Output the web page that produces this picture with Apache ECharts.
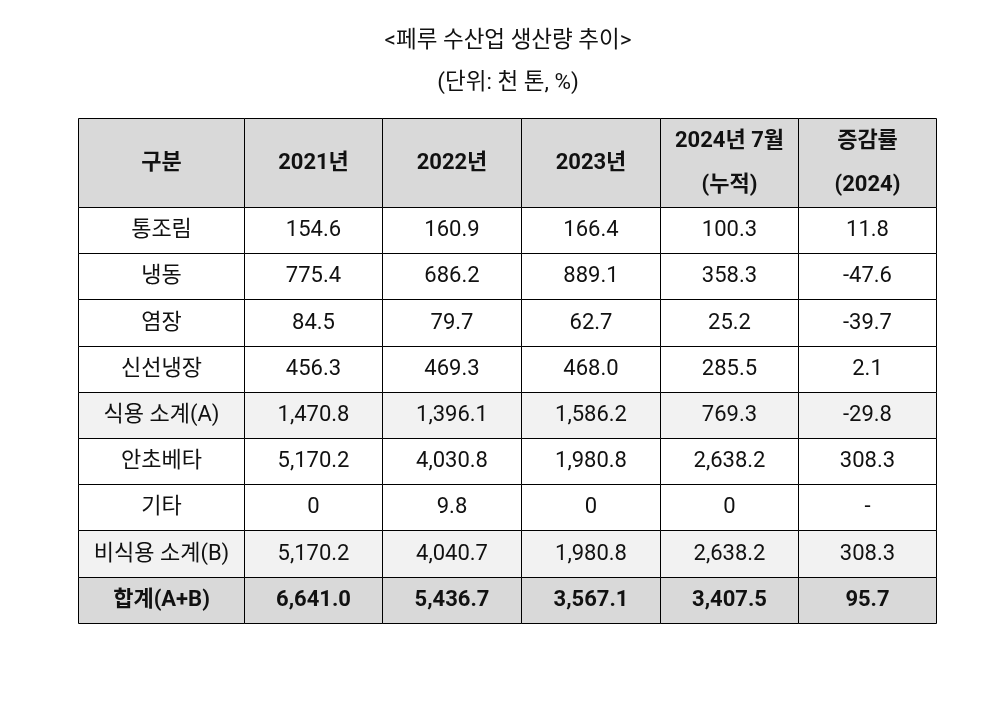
<!DOCTYPE html>
<html>
<head>
<meta charset="utf-8">
<script src="https://cdn.jsdelivr.net/npm/echarts@6/dist/echarts.min.js"></script>
<style>
  html, body { margin: 0; padding: 0; background: #fff; }
  #main { width: 997px; height: 714px; }
</style>
</head>
<body>
<div id="main"></div>
<script>
const FONT = 'Roboto, "Noto Sans CJK KR", sans-serif'

// 표 데이터
const headers = ['구분', '2021년', '2022년', '2023년', '2024년 7월\n(누적)', '증감률\n(2024)']
const categories = ['통조림', '냉동', '염장', '신선냉장', '식용 소계(A)', '안초베타', '기타', '비식용 소계(B)', '합계(A+B)']
const v2021 = [154.6, 775.4, 84.5, 456.3, 1470.8, 5170.2, 0, 5170.2, 6641.0]
const v2022 = [160.9, 686.2, 79.7, 469.3, 1396.1, 4030.8, 9.8, 4040.7, 5436.7]
const v2023 = [166.4, 889.1, 62.7, 468.0, 1586.2, 1980.8, 0, 1980.8, 3567.1]
const v2024Jul = [100.3, 358.3, 25.2, 285.5, 769.3, 2638.2, 0, 2638.2, 3407.5]
const changeRate = [11.8, -47.6, -39.7, 2.1, -29.8, 308.3, null, 308.3, 95.7]

// 레이아웃 (열 너비, 행 높이)
const colWidths = [166, 138, 139, 139, 138, 138]
const headerHeight = 89
const rowHeight = 46.2
const subtotalRows = [4, 7]
const totalRow = 8

const colEdges = [0]
colWidths.forEach((w) => colEdges.push(colEdges[colEdges.length - 1] + w))
const rowEdges = [0, headerHeight]
categories.forEach(() => rowEdges.push(rowEdges[rowEdges.length - 1] + rowHeight))

const fmt = (v) => {
  if (v === null) return '-'
  if (v === 0) return '0'
  return v.toLocaleString('en-US', { minimumFractionDigits: 1, maximumFractionDigits: 1 })
}

const cells = []
headers.forEach((h, c) => cells.push([c, 0, h]))
const columns = [categories, v2021, v2022, v2023, v2024Jul, changeRate]
categories.forEach((_, r) => {
  columns.forEach((col, c) => {
    cells.push([c, r + 1, c === 0 ? col[r] : fmt(col[r])])
  })
})

const myChart = echarts.init(document.getElementById('main'))

const snap = (v) => Math.round(v) + 0.5

const renderCell = (params, api) => {
  const c = api.value(0)
  const r = api.value(1)
  const p0 = api.coord([colEdges[c], rowEdges[r]])
  const p1 = api.coord([colEdges[c + 1], rowEdges[r + 1]])
  const x0 = snap(p0[0]), y0 = snap(p0[1]), x1 = snap(p1[0]), y1 = snap(p1[1])
  const dataRow = r - 1
  let fill = '#ffffff'
  if (r === 0 || dataRow === totalRow) fill = '#d9d9d9'
  else if (subtotalRows.includes(dataRow)) fill = '#f2f2f2'
  const bold = r === 0 || dataRow === totalRow
  return {
    type: 'group',
    children: [
      {
        type: 'rect',
        shape: { x: x0, y: y0, width: x1 - x0, height: y1 - y0 },
        style: { fill: fill, stroke: '#000', lineWidth: 1 },
      },
      {
        type: 'text',
        style: {
          text: cells[params.dataIndex][2],
          x: (x0 + x1) / 2,
          y: (y0 + y1) / 2,
          align: 'center',
          verticalAlign: 'middle',
          fill: '#111',
          font: (bold ? 'bold ' : '') + '22px ' + FONT,
          lineHeight: 44,
        },
      },
    ],
  }
}

myChart.setOption({
  animation: false,
  graphic: [
    {
      type: 'text',
      x: 508,
      y: 41,
      style: { text: '<페루 수산업 생산량 추이>', align: 'center', verticalAlign: 'middle', font: '22.5px ' + FONT, fill: '#111' },
    },
    {
      type: 'text',
      x: 508,
      y: 83,
      style: { text: '(단위: 천 톤, %)', align: 'center', verticalAlign: 'middle', font: '22.5px ' + FONT, fill: '#111' },
    },
  ],
  grid: { left: 78, right: 61, top: 118, bottom: 714 - 118 - rowEdges[rowEdges.length - 1] },
  xAxis: { type: 'value', min: 0, max: colEdges[colEdges.length - 1], show: false },
  yAxis: { type: 'value', min: 0, max: rowEdges[rowEdges.length - 1], inverse: true, show: false },
  series: [
    {
      type: 'custom',
      renderItem: renderCell,
      data: cells,
      silent: true,
    },
  ],
})
</script>
</body>
</html>
